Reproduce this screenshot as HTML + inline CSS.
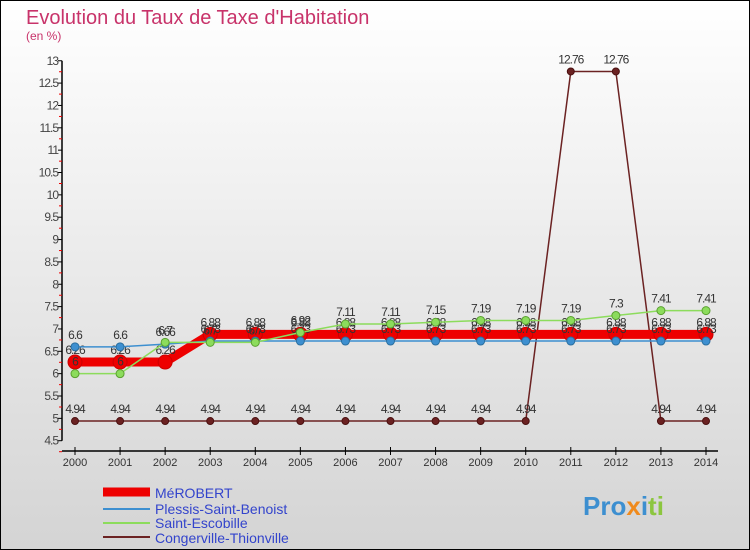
<!DOCTYPE html>
<html><head><meta charset="utf-8"><style>
body{margin:0;width:750px;height:550px;overflow:hidden;font-family:"Liberation Sans",sans-serif}
svg{display:block}
</style></head><body>
<svg width="750" height="550" xmlns="http://www.w3.org/2000/svg">
<defs><linearGradient id="bg" x1="0" y1="0" x2="0" y2="1"><stop offset="0" stop-color="#ffffff"/><stop offset="1" stop-color="#d4d4d4"/></linearGradient></defs>
<rect x="0.5" y="0.5" width="749" height="549" fill="url(#bg)" stroke="#000"/>
<text x="26" y="24" font-size="20" fill="#c8336a">Evolution du Taux de Taxe d'Habitation</text>
<text x="26" y="40" font-size="12" fill="#c8336a">(en %)</text>
<g id="axes"></g><g id="series"></g>
<g font-size="14" fill="#3344cc">
<line x1="103" y1="492" x2="150" y2="492" stroke="#ee0000" stroke-width="9"/>
<text x="155" y="498">MéROBERT</text>
<line x1="103" y1="509" x2="150" y2="509" stroke="#3d8fd0" stroke-width="2"/>
<text x="155" y="514">Plessis-Saint-Benoist</text>
<line x1="103" y1="523" x2="150" y2="523" stroke="#8cdc5c" stroke-width="2"/>
<text x="155" y="528">Saint-Escobille</text>
<line x1="103" y1="537" x2="150" y2="537" stroke="#6b2222" stroke-width="2"/>
<text x="155" y="543">Congerville-Thionville</text>
</g>
<text x="583" y="515" font-size="26" font-weight="bold"><tspan fill="#3d8fd0">Pro</tspan><tspan fill="#f08a1c">x</tspan><tspan fill="#3d8fd0">i</tspan><tspan fill="#8cc63f">ti</tspan></text>
</svg>
<script>
const years=[2000,2001,2002,2003,2004,2005,2006,2007,2008,2009,2010,2011,2012,2013,2014];
const yTicks=[4.5,5,5.5,6,6.5,7,7.5,8,8.5,9,9.5,10,10.5,11,11.5,12,12.5,13];
const merobert=[6.26,6.26,6.26,6.88,6.88,6.88,6.88,6.88,6.88,6.88,6.88,6.88,6.88,6.88,6.88];
const plessis=[6.6,6.6,6.66,6.73,6.73,6.73,6.73,6.73,6.73,6.73,6.73,6.73,6.73,6.73,6.73];
const escobille=[6,6,6.7,6.7,6.7,6.92,7.11,7.11,7.15,7.19,7.19,7.19,7.3,7.41,7.41];
const congerville=[4.94,4.94,4.94,4.94,4.94,4.94,4.94,4.94,4.94,4.94,4.94,12.76,12.76,4.94,4.94];
const NS="http://www.w3.org/2000/svg";
const xS=i=>75+i*(706-75)/(years.length-1);
const yS=v=>440.7-(v-4.5)*44.7;
function mk(t,a,p){const e=document.createElementNS(NS,t);for(const k in a)e.setAttribute(k,a[k]);p.appendChild(e);return e;}
const ax=document.getElementById('axes');
let l=mk('line',{x1:62,y1:yS(13),x2:62,y2:yS(4.5),stroke:'#000','stroke-width':1.5},ax);


l=mk('line',{x1:62,y1:451,x2:718,y2:451,stroke:'#000','stroke-width':1.5},ax);


yTicks.forEach(v=>{const y=yS(v);
 mk('line',{x1:58,y1:y,x2:62,y2:y,stroke:'#000'},ax);
 mk('line',{x1:59,y1:y+11,x2:62,y2:y+11,stroke:'#e00'},ax);
 const t=mk('text',{x:58,y:y+4,'text-anchor':'end','font-size':12,fill:'#444','letter-spacing':'-1'},ax);t.textContent=String(v);
 
 
});
years.forEach((yr,i)=>{const x=xS(i);
 mk('line',{x1:x,y1:447,x2:x,y2:455,stroke:'#000'},ax);
 const t=mk('text',{x:x,y:466,'text-anchor':'middle','font-size':11,fill:'#333'},ax);t.textContent=yr;
 
 
});
const sg=document.getElementById('series');
function draw(data,name,col,w,r,dark){
 const g=mk('g',{},sg);
 
 
 const pl=mk('polyline',{points:data.map((v,i)=>xS(i)+','+yS(v)).join(' '),fill:'none',stroke:col,'stroke-width':w},g);
 
 
 data.forEach((v,i)=>{
  const c=mk('circle',{cx:xS(i),cy:yS(v),r:r,fill:col,stroke:dark,'stroke-width':1},g);
  
  
  const t=mk('text',{x:xS(i),y:yS(v)-8,'text-anchor':'middle','font-size':12,fill:'#333','letter-spacing':'-1'},g);t.textContent=String(v);
  
  
 });
}
draw(congerville,'congerville','#6b2222',1.5,3.5,'#4a1010');
draw(merobert,'merobert','#ee0000',9,7,'#cc0000');
draw(plessis,'plessis','#3d8fd0',1.5,4,'#2a6fa0');
draw(escobille,'escobille','#8cdc5c',1.5,4,'#5aa030');
</script>
</body></html>
